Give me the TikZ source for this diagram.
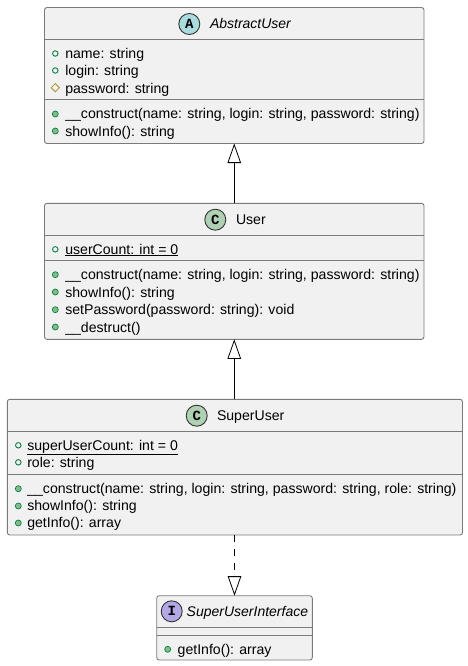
\documentclass[tikz,border=0pt]{standalone}
\usepackage{fontspec}
\setmainfont{Liberation Sans}
\setmonofont{Liberation Mono}
\usetikzlibrary{arrows.meta,shapes.geometric}
\definecolor{boxfill}{HTML}{F1F1F1}
\definecolor{boxline}{HTML}{7A7A7A}
\definecolor{vis}{HTML}{038048}
\definecolor{visfill}{HTML}{84BE84}
\definecolor{prot}{HTML}{B38D22}
\definecolor{iconA}{HTML}{A9DCDF}
\definecolor{iconC}{HTML}{ADD1B2}
\definecolor{iconI}{HTML}{B4A7E5}
\tikzset{
  umlbox/.style={draw=boxline,fill=boxfill,line width=0.9pt,rounded corners=2.5pt,inner sep=0pt,outer sep=0pt,anchor=north west},
  divider/.style={draw=boxline,line width=0.9pt},
  member/.style={anchor=base west,inner sep=0pt,outer sep=0pt,font=\fontsize{14.1}{16}\selectfont,text=black},
  title/.style={member},
  ititle/.style={member,font=\fontsize{14}{16}\selectfont\itshape},
  icon/.style={circle,draw=black!80!white,line width=0.9pt,minimum size=21pt,inner sep=0pt,font=\fontsize{14}{14}\selectfont\ttfamily\bfseries},
  pubfield/.style={circle,draw=vis,line width=0.9pt,fill=none,minimum size=5.5pt,inner sep=0pt},
  pubmethod/.style={circle,draw=vis,line width=0.7pt,fill=visfill,minimum size=6pt,inner sep=0pt},
  protfield/.style={diamond,aspect=1,draw=prot,line width=0.8pt,fill=none,minimum size=8.5pt,inner sep=0pt},
  inherit/.style={-{Triangle[open,length=19.5pt,width=13.5pt,fill=white]},draw=black,line width=0.8pt},
  realize/.style={inherit,dash pattern=on 7pt off 7pt}
}
\begin{document}
\begin{tikzpicture}[x=1pt,y=-1pt]
\useasboundingbox (0,0) rectangle (468,666);

% AbstractUser
\node[umlbox,minimum width=379.5pt,minimum height=136pt] (b1) at (44.5,7.5) {};
\draw[divider] (b1.west |- 0,39.5) -- (b1.east |- 0,39.5);
\draw[divider] (b1.west |- 0,99.3) -- (b1.east |- 0,99.3);
\node[icon,fill=iconA] (i1) at (189.3,24) {A};
\node[ititle] (t1) at (210,29) {AbstractUser};
\node[pubfield] (m1a) at (55.3,53.5) {};
\node[member] (x1a) at (65.3,58.3) {name: string};
\node[pubfield] (m1b) at (55.3,70.5) {};
\node[member] (x1b) at (65.3,75.6) {login: string};
\node[protfield] (m1c) at (55.3,87.7) {};
\node[member] (x1c) at (65.3,93.3) {password: string};
\node[pubmethod] (m1d) at (55.3,114) {};
\node[member] (x1d) at (65.3,118.3) {\_\_construct(name: string, login: string, password: string)};
\node[pubmethod] (m1e) at (55.3,131) {};
\node[member] (x1e) at (65.3,136) {showInfo(): string};

% User
\node[umlbox,minimum width=379.5pt,minimum height=136pt] (b2) at (44.5,203.3) {};
\draw[divider] (b2.west |- 0,235.7) -- (b2.east |- 0,235.7);
\draw[divider] (b2.west |- 0,260.7) -- (b2.east |- 0,260.7);
\node[icon,fill=iconC] (i2) at (215.3,219.7) {C};
\node[title] (t2) at (236,224.8) {User};
\node[pubfield] (m2a) at (55.3,249.3) {};
\node[member] (x2a) at (65.3,254) {\underline{userCount: int = 0}};
\node[pubmethod] (m2b) at (55.3,274.7) {};
\node[member] (x2b) at (65.3,279.3) {\_\_construct(name: string, login: string, password: string)};
\node[pubmethod] (m2c) at (55.3,292) {};
\node[member] (x2c) at (65.3,297.3) {showInfo(): string};
\node[pubmethod] (m2d) at (55.3,309.7) {};
\node[member] (x2d) at (65.3,314.3) {setPassword(password: string): void};
\node[pubmethod] (m2e) at (55.3,327) {};
\node[member] (x2e) at (65.3,332.3) {\_\_destruct()};

% SuperUser
\node[umlbox,minimum width=455.2pt,minimum height=135.7pt] (b3) at (7.3,399.3) {};
\draw[divider] (b3.west |- 0,431.3) -- (b3.east |- 0,431.3);
\draw[divider] (b3.west |- 0,474.3) -- (b3.east |- 0,474.3);
\node[icon,fill=iconC] (i3) at (196.7,415.7) {C};
\node[title] (t3) at (217,420.8) {SuperUser};
\node[pubfield] (m3a) at (18.3,445.3) {};
\node[member] (x3a) at (27.3,450) {\underline{superUserCount: int = 0}};
\node[pubfield] (m3b) at (18.3,462.3) {};
\node[member] (x3b) at (27.3,467.3) {role: string};
\node[pubmethod] (m3c) at (18.3,488.7) {};
\node[member] (x3c) at (27.3,493.3) {\_\_construct(name: string, login: string, password: string, role: string)};
\node[pubmethod] (m3d) at (18.3,506) {};
\node[member] (x3d) at (27.3,510.3) {showInfo(): string};
\node[pubmethod] (m3e) at (18.3,523) {};
\node[member] (x3e) at (27.3,527.7) {getInfo(): array};

% SuperUserInterface
\node[umlbox,minimum width=155.6pt,minimum height=64.3pt] (b4) at (156.7,595.7) {};
\draw[divider] (b4.west |- 0,627.3) -- (b4.east |- 0,627.3);
\draw[divider] (b4.west |- 0,635.3) -- (b4.east |- 0,635.3);
\node[icon,fill=iconI] (i4) at (171.7,611.3) {I};
\node[ititle] (t4) at (186.7,616.7) {SuperUserInterface};
\node[pubmethod] (m4a) at (167.7,649.3) {};
\node[member] (x4a) at (177.7,654.3) {getInfo(): array};

% Connectors
\draw[inherit] (b2.north) -- (b1.south);
\draw[inherit] (b3.north -| b2.north) -- (b2.south);
\draw[realize] (b3.south -| b4.north) -- (b4.north);
\end{tikzpicture}
\end{document}
